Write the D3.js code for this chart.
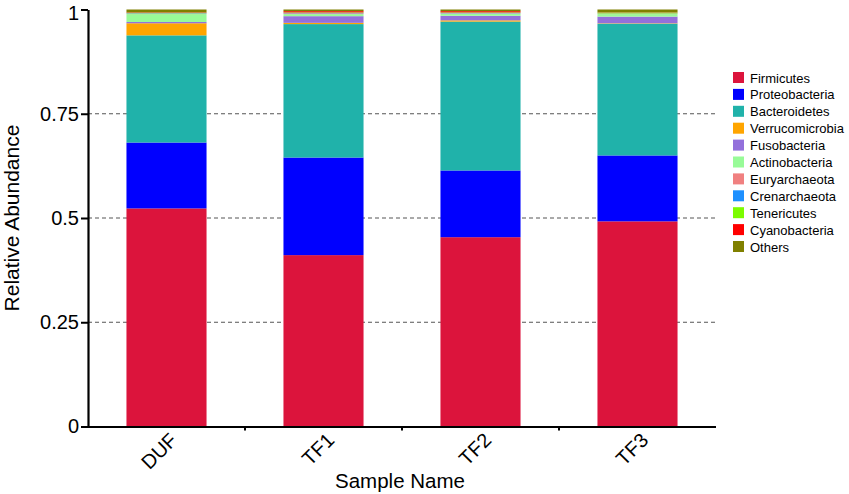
<!DOCTYPE html>
<html>
<head>
<meta charset="utf-8">
<script src="https://cdn.jsdelivr.net/npm/d3@7"></script>
<style>
  body { margin: 0; background: #fff; }
  text { font-family: "Liberation Sans", Arial, sans-serif; }
</style>
</head>
<body>
<svg id="chart" width="849" height="494"></svg>
<script>
const samples = ["DUF", "TF1", "TF2", "TF3"];
const phyla = ["Firmicutes", "Proteobacteria", "Bacteroidetes", "Verrucomicrobia", "Fusobacteria",
  "Actinobacteria", "Euryarchaeota", "Crenarchaeota", "Tenericutes", "Cyanobacteria", "Others"];
const colors = ["#DC143C", "#0000FF", "#20B2AA", "#FFA500", "#9370DB",
  "#98FB98", "#F08080", "#1E90FF", "#7CFC00", "#FF0000", "#808000"];
// values per phylum, in sample order DUF, TF1, TF2, TF3
const Firmicutes      = [0.523, 0.411, 0.454, 0.492];
const Proteobacteria  = [0.158, 0.234, 0.160, 0.158];
const Bacteroidetes   = [0.257, 0.320, 0.357, 0.316];
const Verrucomicrobia = [0.029, 0.003, 0.003, 0.001];
const Fusobacteria    = [0.003, 0.016, 0.011, 0.016];
const Actinobacteria  = [0.019, 0.005, 0.005, 0.006];
const Euryarchaeota   = [0.001, 0.002, 0.001, 0.001];
const Crenarchaeota   = [0.001, 0.001, 0.001, 0.0005];
const Tenericutes     = [0.001, 0.001, 0.001, 0.002];
const Cyanobacteria   = [0.001, 0.003, 0.003, 0.0005];
const Others          = [0.007, 0.004, 0.004, 0.007];
const yTicks = [0, 0.25, 0.5, 0.75, 1];
const yTickLabels = ["0", "0.25", "0.5", "0.75", "1"];

const seriesValues = [Firmicutes, Proteobacteria, Bacteroidetes, Verrucomicrobia, Fusobacteria,
  Actinobacteria, Euryarchaeota, Crenarchaeota, Tenericutes, Cyanobacteria, Others];

const table = samples.map((s, i) => {
  const row = { sample: s };
  phyla.forEach((p, j) => row[p] = seriesValues[j][i]);
  return row;
});

const svg = d3.select("#chart");
const mLeft = 88, mRight = 716, mTop = 9.5, mBottom = 426.5;

const x = d3.scaleBand().domain(samples).range([mLeft, mRight]).paddingInner(0.49).paddingOuter(0.245);
const y = d3.scaleLinear().domain([0, 1]).range([mBottom, mTop]);
const color = d3.scaleOrdinal().domain(phyla).range(colors);

// gridlines
svg.append("g").selectAll("line")
  .data([0.25, 0.5, 0.75]).join("line")
  .attr("x1", mLeft).attr("x2", mRight)
  .attr("y1", d => y(d)).attr("y2", d => y(d))
  .attr("stroke", "#555").attr("stroke-width", 1).attr("stroke-dasharray", "4,3");

const stacked = d3.stack().keys(phyla)(table);
svg.append("g").selectAll("g")
  .data(stacked).join("g")
  .attr("fill", d => color(d.key))
  .selectAll("rect")
  .data(d => d).join("rect")
  .attr("x", d => x(d.data.sample))
  .attr("width", x.bandwidth())
  .attr("y", d => y(d[1]))
  .attr("height", d => Math.max(0, y(d[0]) - y(d[1])));

// y axis
const yAxis = d3.axisLeft(y).tickValues(yTicks).tickFormat((d, i) => yTickLabels[i]).tickSize(7).tickSizeOuter(0).tickPadding(2);
const gy = svg.append("g").attr("transform", `translate(${mLeft},0)`).call(yAxis);
gy.select(".domain").attr("stroke", "#000").attr("stroke-width", 2.2);
gy.selectAll(".tick line").attr("stroke", "#000").attr("stroke-width", 2);
gy.selectAll(".tick text").attr("font-size", 20).attr("fill", "#000")
  .attr("font-family", "Liberation Sans, Arial, sans-serif")
  .attr("dy", d => d === 1 ? "0.5em" : "0.32em");

// x axis: line plus ticks between bands
svg.append("line").attr("x1", mLeft - 1).attr("x2", mRight).attr("y1", mBottom + 0.5).attr("y2", mBottom + 0.5)
  .attr("stroke", "#000").attr("stroke-width", 2.2);
const step = x.step();
svg.append("g").selectAll("line")
  .data(samples.slice(1)).join("line")
  .attr("x1", d => x(d) - (step - x.bandwidth()) / 2)
  .attr("x2", d => x(d) - (step - x.bandwidth()) / 2)
  .attr("y1", mBottom).attr("y2", mBottom + 4)
  .attr("stroke", "#000").attr("stroke-width", 2);

svg.append("g").selectAll("text")
  .data(samples).join("text")
  .attr("transform", d => `translate(${x(d) + x.bandwidth() / 2 + 12},${mBottom + 15}) rotate(-45)`)
  .attr("text-anchor", "end")
  .attr("font-size", 20)
  .attr("fill", "#000")
  .text(d => d);

// axis titles
svg.append("text").attr("x", (mLeft + mRight) / 2 - 2).attr("y", 488)
  .attr("text-anchor", "middle").attr("font-size", 20.5).attr("fill", "#000").text("Sample Name");
svg.append("text").attr("transform", `translate(19,${(mTop + mBottom) / 2}) rotate(-90)`)
  .attr("text-anchor", "middle").attr("font-size", 21).attr("fill", "#000").text("Relative Abundance");

// legend
const lg = svg.append("g").attr("transform", "translate(733,72)");
const items = lg.selectAll("g").data(phyla).join("g")
  .attr("transform", (d, i) => `translate(0,${i * 16.9})`);
items.append("rect").attr("width", 11).attr("height", 11).attr("fill", d => color(d));
items.append("text").attr("x", 17).attr("y", 10.5).attr("font-size", 13).attr("fill", "#000").text(d => d);
</script>
</body>
</html>
